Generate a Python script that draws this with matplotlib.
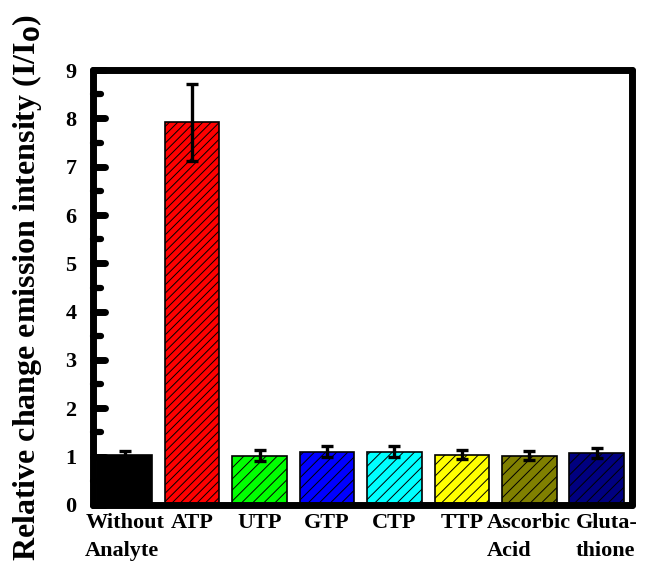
import matplotlib
matplotlib.use("Agg")
import matplotlib.pyplot as plt
import matplotlib.transforms as mtransforms
from matplotlib.markers import MarkerStyle, TICKRIGHT
import numpy as np

# data
categories = ["Without\nAnalyte", "ATP", "UTP", "GTP", "CTP", "TTP",
              "Ascorbic\nAcid", "Gluta-\nthione"]
values = [1.03, 7.92, 1.02, 1.10, 1.10, 1.04, 1.02, 1.07]
errors = [0.09, 0.79, 0.11, 0.11, 0.115, 0.10, 0.10, 0.10]
colors = ["#000000", "#ff0000", "#00ff00", "#0000ff", "#00ffff",
          "#ffff00", "#808000", "#000080"]
hatches = [None, "////", "///", "///", "///", "///", "///", "///"]

plt.rcParams["font.family"] = ["Liberation Serif", "DejaVu Serif"]
plt.rcParams["font.weight"] = "bold"
plt.rcParams["hatch.linewidth"] = 0.7

fig = plt.figure(figsize=(6.46, 5.66), dpi=100)
ax = fig.add_axes([0.144, 0.108, 0.834, 0.768])

x = np.arange(len(categories))
for i in range(len(categories)):
    ax.bar(x[i], values[i], width=0.81, color=colors[i], edgecolor="black",
           linewidth=1.2, hatch=hatches[i], zorder=2)
ax.errorbar(x, values, yerr=errors, fmt="none", ecolor="black",
            elinewidth=2.4, capsize=4, capthick=2.4, zorder=3)

ax.set_xlim(-0.47, 7.52)
ax.set_ylim(0, 9)
ax.set_yticks(np.arange(0, 10, 1))
ax.set_yticks(np.arange(0.5, 9, 1), minor=True)
ax.set_xticks(x)
ax.set_xticklabels(categories, fontsize=16, fontweight="bold",
                   linespacing=1.5, multialignment="left")
ax.tick_params(axis="x", length=0, pad=6)
ax.tick_params(axis="y", which="major", direction="in", length=8.5, width=5,
               labelsize=16, pad=12)
ax.tick_params(axis="y", which="minor", direction="in", length=5.5, width=4.5)
# rounded tick stubs like the original
for t in ax.yaxis.get_majorticklines() + ax.yaxis.get_minorticklines():
    t.set_marker(MarkerStyle(TICKRIGHT, capstyle="round"))
for lab in ax.get_yticklabels():
    lab.set_fontweight("bold")

# last label sits a bit to the right in the original
shift = mtransforms.ScaledTranslation(10 / 100, 0, fig.dpi_scale_trans)
lab = ax.get_xticklabels()[-1]
lab.set_transform(lab.get_transform() + shift)

for s in ax.spines.values():
    s.set_linewidth(5)
    s.set_capstyle("round")

ax.set_ylabel(r"Relative change emission intensity (I/I$_\mathbf{0}$)",
              fontsize=23, fontweight="bold")
ax.yaxis.set_label_coords(-0.091, 0.50)

fig.savefig("out.png", dpi=100)
